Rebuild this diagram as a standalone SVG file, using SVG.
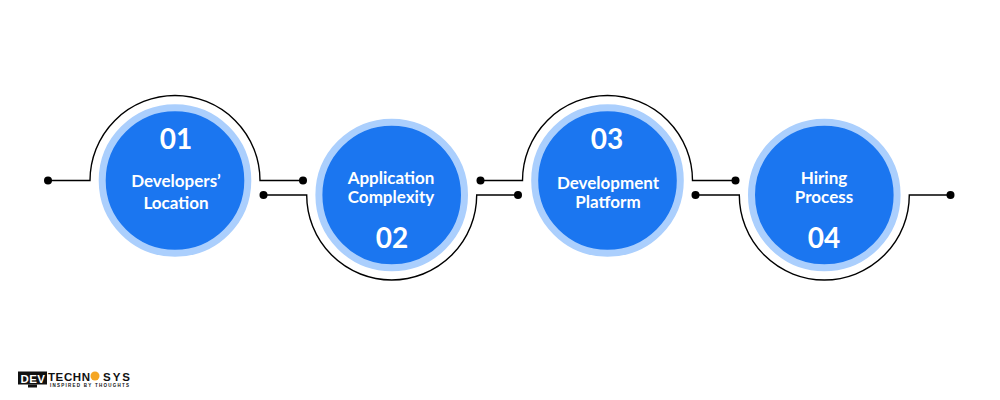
<svg xmlns="http://www.w3.org/2000/svg" width="1000" height="400" viewBox="0 0 1000 400">
<style>
.ring{fill:#1b76f0;stroke:#abcffd;stroke-width:7}
.wire{fill:none;stroke:#000;stroke-width:1.4}
.dot{fill:#000}
text{fill:#fff;text-anchor:middle;font-family:"Lato","Open Sans",sans-serif}
.num{font-size:28px;font-weight:700}
.lbl{font-size:17px;font-weight:700}
.logo{fill:#111;text-anchor:start;font-family:"Liberation Sans",sans-serif;font-weight:700}
.dev{text-anchor:start;font-family:"Liberation Sans",sans-serif;font-weight:700;font-size:11.500px}
</style>
<rect width="1000" height="400" fill="#fff"/>
<g id="connectors">
<path class="wire" d="M48 180.500H90A85 85 0 0 1 260 180.500H303"/>
<path class="wire" d="M264 195H306.700A85 85 0 0 0 476.700 195H518"/>
<path class="wire" d="M480.500 180.500H522.500A85 85 0 0 1 692.500 180.500H735"/>
<path class="wire" d="M696 195H739.300A85 85 0 0 0 909.300 195H951"/>
<g class="dot">
<circle cx="48" cy="180.500" r="4"/><circle cx="303" cy="180.500" r="4"/>
<circle cx="263.500" cy="195" r="4"/><circle cx="518" cy="195" r="4"/>
<circle cx="480.500" cy="180.500" r="4"/><circle cx="735.500" cy="180.500" r="4"/>
<circle cx="695.500" cy="195" r="4"/><circle cx="950.500" cy="195" r="4"/>
</g>
</g>
<g id="node-1"><circle class="ring" cx="175" cy="180.500" r="72.800"/>
<text class="num" x="176" y="149">01</text><text class="lbl" x="176" y="186.500">Developers’</text><text class="lbl" x="176" y="209">Location</text></g>
<g id="node-2"><circle class="ring" cx="391.700" cy="195" r="72.800"/>
<text class="lbl" x="391" y="184">Application</text><text class="lbl" x="391" y="203">Complexity</text><text class="num" x="392" y="248">02</text></g>
<g id="node-3"><circle class="ring" cx="607.500" cy="180.500" r="72.800"/>
<text class="num" x="607" y="149">03</text><text class="lbl" x="608" y="188.500">Development</text><text class="lbl" x="608" y="207.500">Platform</text></g>
<g id="node-4"><circle class="ring" cx="824.300" cy="195" r="72.800"/>
<text class="lbl" x="824" y="184">Hiring</text><text class="lbl" x="824" y="203">Process</text><text class="num" x="824" y="248">04</text></g>
<g id="logo">
<rect x="18" y="371.500" width="29" height="13" fill="#111"/><rect x="28" y="384.500" width="9" height="3" fill="#111"/>
<text class="dev" x="20.500" y="383" textLength="24.500">DEV</text>
<text class="logo" x="48" y="380.500" font-size="11.500" textLength="42">TECHN</text>
<circle cx="95" cy="376" r="4.500" fill="#f5a623"/>
<text class="logo" x="103" y="380.500" font-size="11.500" textLength="27">SYS</text>
<text class="logo" x="50" y="386.500" font-size="4.500" textLength="79">INSPIRED BY THOUGHTS</text>
</g>
</svg>
